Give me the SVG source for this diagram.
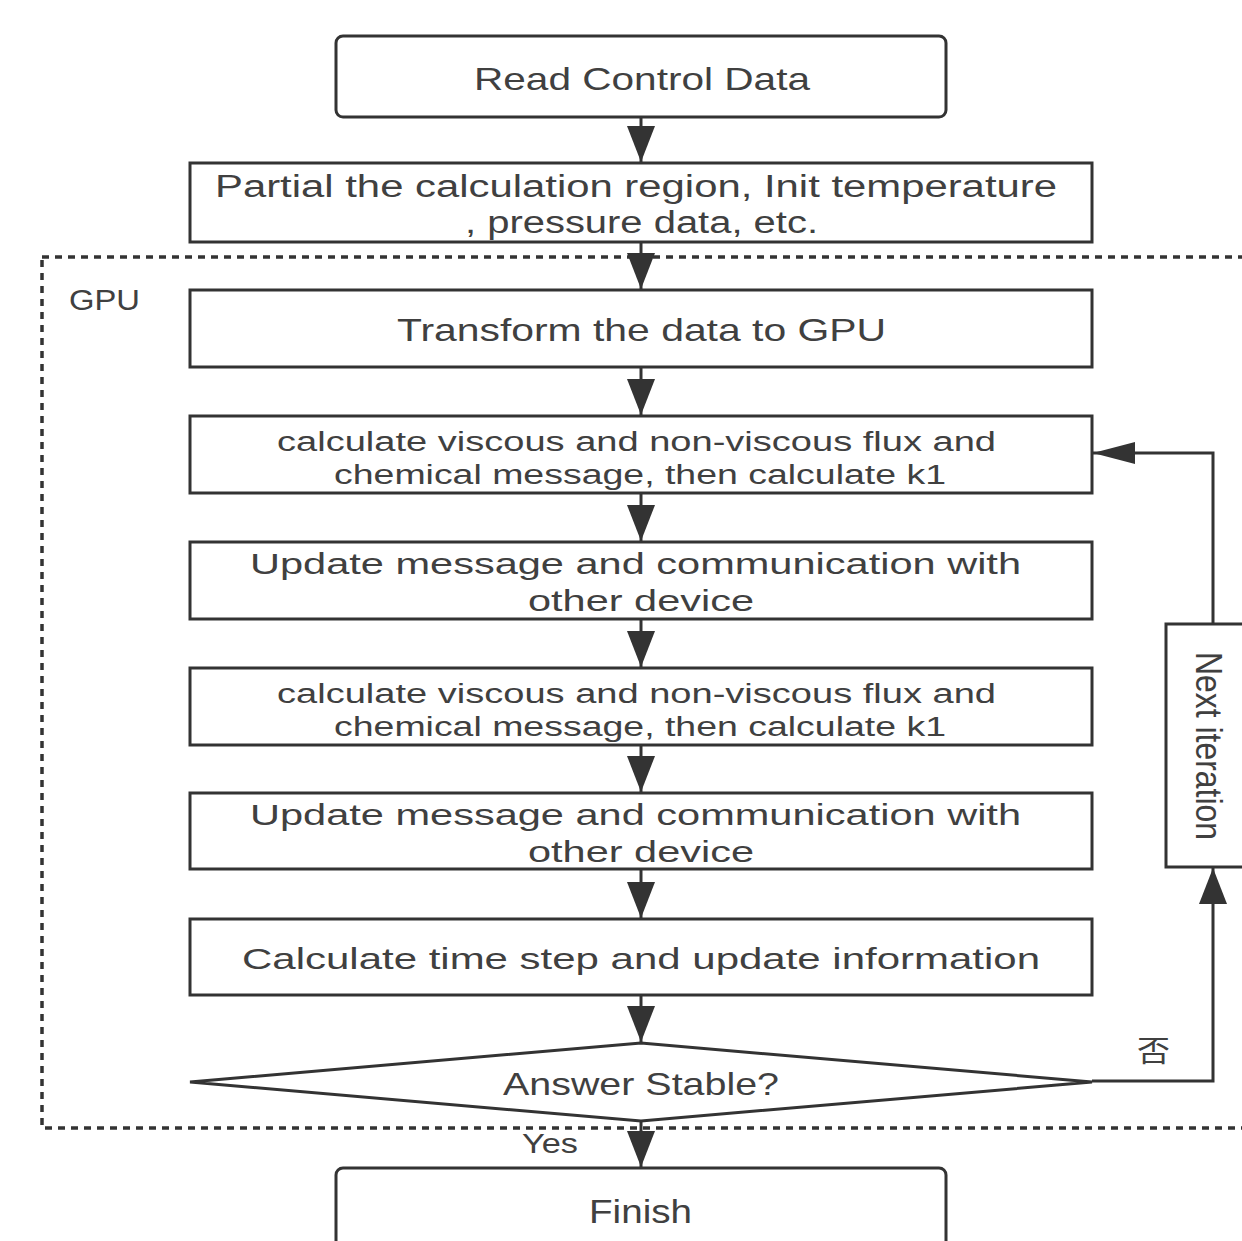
<svg xmlns="http://www.w3.org/2000/svg" width="1242" height="1241" viewBox="0 0 1242 1241">
<style>
.box{fill:#fff;stroke:#333;stroke-width:3}
.t{font-family:"Liberation Sans",Arial,sans-serif;fill:#404040}
.c{fill:none;stroke:#333;stroke-width:3}
.dot{fill:none;stroke:#333;stroke-width:3.5;stroke-dasharray:7 6}
</style>
<defs>
<marker id="av" viewBox="0 0 36 28" markerWidth="36" markerHeight="28" refX="36" refY="14" orient="auto" markerUnits="userSpaceOnUse"><path d="M0,0 L36,14 L0,28 Z" fill="#333"/></marker>
<marker id="ah" viewBox="0 0 42 22" markerWidth="42" markerHeight="22" refX="42" refY="11" orient="auto" markerUnits="userSpaceOnUse"><path d="M0,0 L42,11 L0,22 Z" fill="#333"/></marker>
</defs>
<rect width="1242" height="1241" fill="#fff"/>
<g id="gpu-region">
<rect class="dot" x="42" y="257" width="1240" height="871"/>
<text class="t" x="69" y="310" font-size="29" textLength="71" lengthAdjust="spacingAndGlyphs">GPU</text>
</g>
<g id="connectors">
<path class="c" d="M641,117 V162" marker-end="url(#av)"/>
<path class="c" d="M641,242 V289" marker-end="url(#av)"/>
<path class="c" d="M641,367 V415" marker-end="url(#av)"/>
<path class="c" d="M641,493 V541" marker-end="url(#av)"/>
<path class="c" d="M641,619 V667" marker-end="url(#av)"/>
<path class="c" d="M641,745 V792" marker-end="url(#av)"/>
<path class="c" d="M641,869 V918" marker-end="url(#av)"/>
<path class="c" d="M641,995 V1042" marker-end="url(#av)"/>
<path class="c" d="M641,1121 V1167" marker-end="url(#av)"/>
<path class="c" d="M1092,1081 H1213 V868" marker-end="url(#av)"/>
<path class="c" d="M1213,624 V453 H1093" marker-end="url(#ah)"/>
<text class="t" x="522" y="1153" font-size="28" textLength="56" lengthAdjust="spacingAndGlyphs">Yes</text>
<text x="1137" y="1062" font-size="29" font-family="Noto Sans CJK SC, sans-serif" fill="#404040" textLength="33" lengthAdjust="spacingAndGlyphs">否</text>
</g>
<g id="read">
<rect class="box" x="336" y="36" width="610" height="81" rx="7"/>
<text class="t" x="474" y="90" font-size="32" textLength="336" lengthAdjust="spacingAndGlyphs">Read Control Data</text>
</g>
<g id="partial">
<rect class="box" x="190" y="163" width="902" height="79"/>
<text class="t" x="215" y="197" font-size="31" textLength="842" lengthAdjust="spacingAndGlyphs">Partial the calculation region, Init temperature</text>
<text class="t" x="465" y="233" font-size="31" textLength="353" lengthAdjust="spacingAndGlyphs">, pressure data, etc.</text>
</g>
<g id="transform">
<rect class="box" x="190" y="290" width="902" height="77"/>
<text class="t" x="397" y="341" font-size="32" textLength="489" lengthAdjust="spacingAndGlyphs">Transform the data to GPU</text>
</g>
<g id="calc1">
<rect class="box" x="190" y="416" width="902" height="77"/>
<text class="t" x="277" y="451" font-size="27" textLength="719" lengthAdjust="spacingAndGlyphs">calculate viscous and non-viscous flux and</text>
<text class="t" x="334" y="484" font-size="27" textLength="612" lengthAdjust="spacingAndGlyphs">chemical message, then calculate k1</text>
</g>
<g id="update1">
<rect class="box" x="190" y="542" width="902" height="77"/>
<text class="t" x="250" y="574" font-size="30" textLength="771" lengthAdjust="spacingAndGlyphs">Update message and communication with</text>
<text class="t" x="528" y="611" font-size="30" textLength="226" lengthAdjust="spacingAndGlyphs">other device</text>
</g>
<g id="calc2">
<rect class="box" x="190" y="668" width="902" height="77"/>
<text class="t" x="277" y="703" font-size="27" textLength="719" lengthAdjust="spacingAndGlyphs">calculate viscous and non-viscous flux and</text>
<text class="t" x="334" y="736" font-size="27" textLength="612" lengthAdjust="spacingAndGlyphs">chemical message, then calculate k1</text>
</g>
<g id="update2">
<rect class="box" x="190" y="793" width="902" height="76"/>
<text class="t" x="250" y="825" font-size="30" textLength="771" lengthAdjust="spacingAndGlyphs">Update message and communication with</text>
<text class="t" x="528" y="862" font-size="30" textLength="226" lengthAdjust="spacingAndGlyphs">other device</text>
</g>
<g id="timestep">
<rect class="box" x="190" y="919" width="902" height="76"/>
<text class="t" x="242" y="969" font-size="30" textLength="798" lengthAdjust="spacingAndGlyphs">Calculate time step and update information</text>
</g>
<g id="decision">
<polygon class="box" points="190,1082 641,1043 1092,1082 641,1121"/>
<text class="t" x="503" y="1095" font-size="32" textLength="276" lengthAdjust="spacingAndGlyphs">Answer Stable?</text>
</g>
<g id="next">
<rect class="box" x="1166" y="624" width="100" height="243"/>
<text class="t" transform="translate(1196,652) rotate(90)" x="0" y="0" font-size="36" textLength="188" lengthAdjust="spacingAndGlyphs">Next iteration</text>
</g>
<g id="finish">
<rect class="box" x="336" y="1168" width="610" height="100" rx="7"/>
<text class="t" x="589" y="1223" font-size="33" textLength="103" lengthAdjust="spacingAndGlyphs">Finish</text>
</g>
</svg>
